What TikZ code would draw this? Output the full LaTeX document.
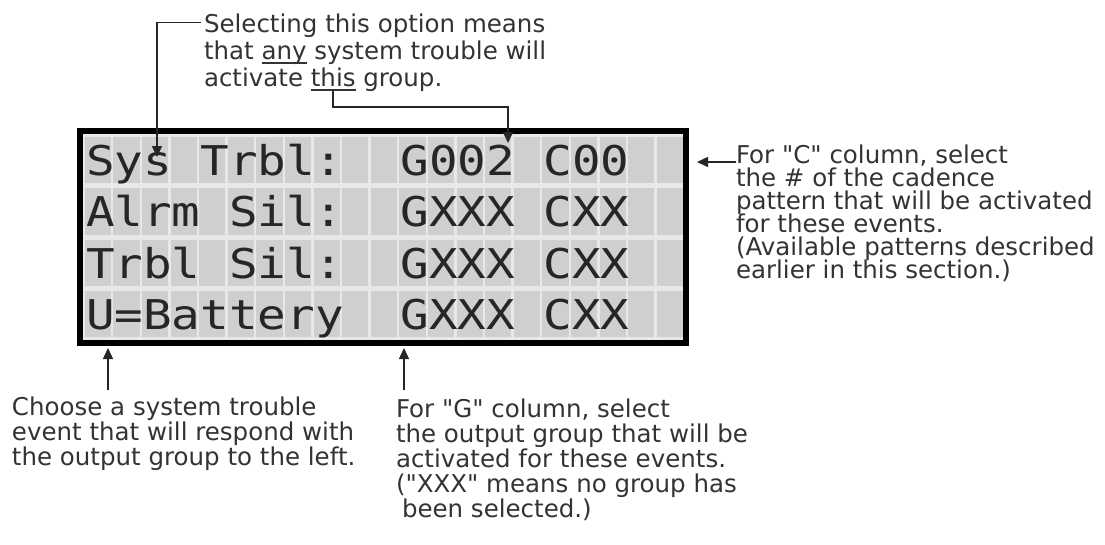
\documentclass[tikz,border=0pt]{standalone}
\usepackage{fontspec}
\setmainfont{DejaVu Sans}
\newfontfamily\notefont{DejaVu Sans}
\newfontfamily\lcdfont{DejaVu Sans Mono}[FakeStretch=1.16]
\usetikzlibrary{arrows.meta}
\newcommand\myul[1]{\mbox{\setbox0\hbox{#1}\rlap{\rule[-4.5pt]{\wd0}{1.4pt}}\box0}}
\begin{document}
\begin{tikzpicture}[x=1pt,y=-1pt,
  note/.style={anchor=base west, inner sep=0pt, outer sep=0pt, font=\notefont\fontsize{24.5}{27}\selectfont, text=black!80},
  lcdtxt/.style={anchor=base west, inner sep=0pt, outer sep=0pt, font=\lcdfont\fontsize{41}{41}\selectfont, text=black!85},
  arr/.style={draw=black!85, line width=1.4pt, -{Triangle[length=11pt,width=10pt]}},
  cell/.style={fill=black!19, draw=none}
]
\useasboundingbox (0,0) rectangle (1105,544);
\fill[white] (0,0) rectangle (1105,544);

% LCD background and cells
\fill[black!9] (82,134) rectangle (683,339.5);
\foreach \c in {0,...,20}{
  \foreach \r in {0,...,3}{
    \fill[cell] ({83.5+28.6*\c+1.2},{134.5+51.25*\r+2.5}) rectangle ({83.5+28.6*(\c+1)-1.2},{134.5+51.25*(\r+1)-2.5});
  }
}
\node[draw=black, line width=6pt, minimum width=606.5pt, minimum height=211.5pt, inner sep=0pt, outer sep=0pt] (lcd) at (382.75,236.75) {};

% LCD text
\node[lcdtxt] (a0) at ({86+28.6*0},{175.5}) {Sys};
\node[lcdtxt] (a1) at ({86+28.6*4},{175.5}) {Trbl:};
\node[lcdtxt] (a2) at ({86+28.6*11},{175.5}) {G002};
\node[lcdtxt] (a3) at ({86+28.6*16},{175.5}) {C00};
\node[lcdtxt] (b0) at ({86+28.6*0},{175.5+51.25}) {Alrm};
\node[lcdtxt] (b1) at ({86+28.6*5},{175.5+51.25}) {Sil:};
\node[lcdtxt] (b2) at ({86+28.6*11},{175.5+51.25}) {GXXX};
\node[lcdtxt] (b3) at ({86+28.6*16},{175.5+51.25}) {CXX};
\node[lcdtxt] (c0) at ({86+28.6*0},{175.5+102.5}) {Trbl};
\node[lcdtxt] (c1) at ({86+28.6*5},{175.5+102.5}) {Sil:};
\node[lcdtxt] (c2) at ({86+28.6*11},{175.5+102.5}) {GXXX};
\node[lcdtxt] (c3) at ({86+28.6*16},{175.5+102.5}) {CXX};
\node[lcdtxt] (d0) at ({86+28.6*0},{175.5+153.75}) {U=Battery};
\node[lcdtxt] (d2) at ({86+28.6*11},{175.5+153.75}) {GXXX};
\node[lcdtxt] (d3) at ({86+28.6*16},{175.5+153.75}) {CXX};

% top note
\node[note] (top1) at (204,32) {Selecting this option means};
\node[note] (top2) at (204,59) {that \myul{any} system trouble will};
\node[note] (top3) at (204,86) {activate \myul{this} group.};

% right note
\node[note] (r1) at (736,163) {For "C" column, select};
\node[note] (r2) at (736,186) {the \# of the cadence};
\node[note] (r3) at (736,209) {pattern that will be activated};
\node[note] (r4) at (736,232) {for these events.};
\node[note] (r5) at (736,255) {(Available patterns described};
\node[note] (r6) at (736,278) {earlier in this section.)};

% bottom left note
\node[note] (bl1) at (12,415) {Choose a system trouble};
\node[note] (bl2) at (12,440) {event that will respond with};
\node[note] (bl3) at (12,465) {the output group to the left.};

% bottom centre note
\node[note] (bc1) at (396,417) {For "G" column, select};
\node[note] (bc2) at (396,442) {the output group that will be};
\node[note] (bc3) at (396,467) {activated for these events.};
\node[note] (bc4) at (396,492) {("XXX" means no group has};
\node[note] (bc5) at (402,517) {been selected.)};

% connectors
\coordinate (tipS) at (157,157);
\coordinate (thisU) at (333,91);
\coordinate (tipG) at (508,143);
\coordinate (tipC) at (697,162);
\coordinate (bA) at (108,390);
\coordinate (bAtip) at (108,348);
\coordinate (bG) at (404,390);
\coordinate (bGtip) at (404,348);

\draw[arr] ([xshift=-3pt,yshift=2.5pt]top1.west) -| (tipS);
\draw[arr] (thisU) -- ++(0,16) -| (tipG);
\draw[arr] ([yshift=1pt]r1.base west) -- (tipC);
\draw[arr] (bA) -- (bAtip);
\draw[arr] (bG) -- (bGtip);
\end{tikzpicture}
\end{document}
